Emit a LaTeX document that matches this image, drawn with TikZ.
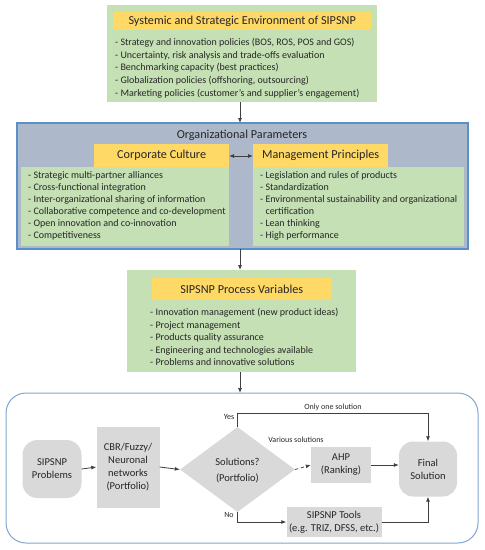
\documentclass[tikz,border=0pt]{standalone}
\usepackage{fontspec}
\setmainfont{Carlito}
\usetikzlibrary{shapes.geometric,arrows.meta}
\definecolor{boxgreen}{HTML}{C5E0B4}
\definecolor{boxyellow}{HTML}{FFD966}
\definecolor{boxblue}{HTML}{ADB9CA}
\definecolor{blueline}{HTML}{5B8FC8}
\definecolor{frameblue}{HTML}{7FA7D0}
\definecolor{boxgray}{HTML}{D9D9D9}
\definecolor{txt}{HTML}{262626}
\definecolor{arr}{HTML}{404040}
\tikzset{
  greenbox/.style={fill=boxgreen,draw=none},
  yellowbox/.style={fill=boxyellow,draw=none},
  titletext/.style={font=\fontsize{12.2}{14}\selectfont,text=txt,inner sep=0pt},
  listtext/.style={font=\fontsize{10}{12.5}\selectfont,text=txt,align=left,inner sep=0pt,anchor=north west},
  grayshape/.style={fill=boxgray,draw=none,font=\fontsize{10.5}{13}\selectfont,text=txt,align=center,inner sep=0pt},
  lbl/.style={font=\fontsize{8}{10}\selectfont,text=txt,inner sep=0pt},
  conn/.style={draw=arr,line width=0.8pt,-{Latex[length=5pt,width=4pt]}},
}
\begin{document}
\begin{tikzpicture}[x=1pt,y=-1pt]
\useasboundingbox (0,0) rectangle (485,550);
% environment
\path[greenbox] (107,5) rectangle (377,102);
\node[yellowbox,minimum width=258pt,minimum height=18pt,inner sep=0pt,anchor=north west] (envy) at (113,12) {};
\node[titletext] (envt) at (envy.center) {Systemic and Strategic Environment of SIPSNP};
\node[listtext,font=\fontsize{10}{12.7}\selectfont] (envl) at (115,38) {- Strategy and innovation policies (BOS, ROS, POS and GOS)\\
- Uncertainty, risk analysis and trade-offs evaluation\\
- Benchmarking capacity (best practices)\\
- Globalization policies (offshoring, outsourcing)\\
- Marketing policies (customer's and supplier's engagement)};
\coordinate (envb) at (240,102);
\coordinate (orgt) at (240,123);
% organizational parameters
\path[fill=boxblue,draw=blueline,line width=1.2pt] (17,123) rectangle (468,249);
\node[titletext] (orgtitle) at (242,135) {Organizational Parameters};
\node[yellowbox,minimum width=135pt,minimum height=23pt,inner sep=0pt,anchor=north west] (ccy) at (94,144) {};
\node[titletext] at (ccy.center) {Corporate Culture};
\node[yellowbox,minimum width=135pt,minimum height=23pt,inner sep=0pt,anchor=north west] (mpy) at (253,144) {};
\node[titletext] at (mpy.center) {Management Principles};
\path[greenbox] (21,167) rectangle (229,246);
\path[greenbox] (253,167) rectangle (464,246);
\node[listtext,font=\fontsize{10}{12}\selectfont] (ccl) at (28,171) {- Strategic multi-partner alliances\\
- Cross-functional integration\\
- Inter-organizational sharing of information\\
- Collaborative competence and co-development\\
- Open innovation and co-innovation\\
- Competitiveness};
\node[listtext,font=\fontsize{10}{12}\selectfont] (mpl) at (260,171) {- Legislation and rules of products\\
- Standardization\\
- Environmental sustainability and organizational\\
\hphantom{- }certification\\
- Lean thinking\\
- High performance};
\coordinate (dl) at (229,156);
\coordinate (dr) at (253,156);
\draw[draw=arr,line width=0.8pt,{Latex[length=5pt,width=4pt]}-{Latex[length=5pt,width=4pt]}] (dl) -- (dr);
\coordinate (orgb) at (240,249);
\coordinate (prt) at (240,270);
% process variables
\path[greenbox] (127,270) rectangle (356,372);
\node[yellowbox,minimum width=179pt,minimum height=22pt,inner sep=0pt,anchor=north west] (pry) at (152,278) {};
\node[titletext] at (pry.center) {SIPSNP Process Variables};
\node[listtext] (prl) at (150,308) {- Innovation management (new product ideas)\\
- Project management\\
- Products quality assurance\\
- Engineering and technologies available\\
- Problems and innovative solutions};
\coordinate (prb) at (240,372);
\coordinate (flt) at (240,393);
% bottom frame
\draw[frameblue,line width=1pt,rounded corners=20pt] (6,393) rectangle (478,543);
\node[grayshape,rounded corners=15pt,minimum width=59pt,minimum height=58pt] (prob) at (52,469) {SIPSNP\\Problems};
\node[grayshape,minimum width=63pt,minimum height=81pt] (cbr) at (128,467) {CBR/Fuzzy/\\Neuronal\\networks\\(Portfolio)};
\node[grayshape,diamond,minimum width=115pt,minimum height=85pt] (dia) at (237.5,469.5) {};
\node[font=\fontsize{10.5}{13}\selectfont,text=txt,inner sep=0pt] at (237.5,462) {Solutions?};
\node[font=\fontsize{10.5}{13}\selectfont,text=txt,inner sep=0pt] at (237.5,478) {(Portfolio)};
\node[grayshape,minimum width=60pt,minimum height=36pt] (ahp) at (341,465) {AHP\\(Ranking)};
\node[grayshape,rounded corners=14pt,minimum width=58pt,minimum height=55pt] (final) at (428,469) {Final\\Solution};
\node[grayshape,minimum width=95pt,minimum height=30pt] (tools) at (334,522) {SIPSNP Tools\\(e.g. TRIZ, DFSS, etc.)};
% connectors
\draw[conn] (envb) -- (orgt);
\draw[conn] (orgb) -- (prt);
\draw[conn] (prb) -- (flt);
\draw[conn] (prob.east) -- (cbr.west);
\draw[conn] (cbr.east) -- (dia.west);
\draw[conn,dashed] (dia.east) -- (ahp.west);
\draw[conn] (ahp.east) -- (final.west |- ahp.east);
\coordinate (yestop) at (237.5,413);
\draw[conn] (dia.north) -- (yestop) -| (final.north);
\draw[conn] (dia.south) |- (tools.west);
\draw[conn] (tools.east) -| (final.south);
\node[lbl] (yes) at (229,417) {Yes};
\node[lbl] (only) at (333,407) {Only one solution};
\node[lbl] (various) at (296,440) {Various solutions};
\node[lbl] (no) at (229,515) {No};
\end{tikzpicture}
\end{document}
